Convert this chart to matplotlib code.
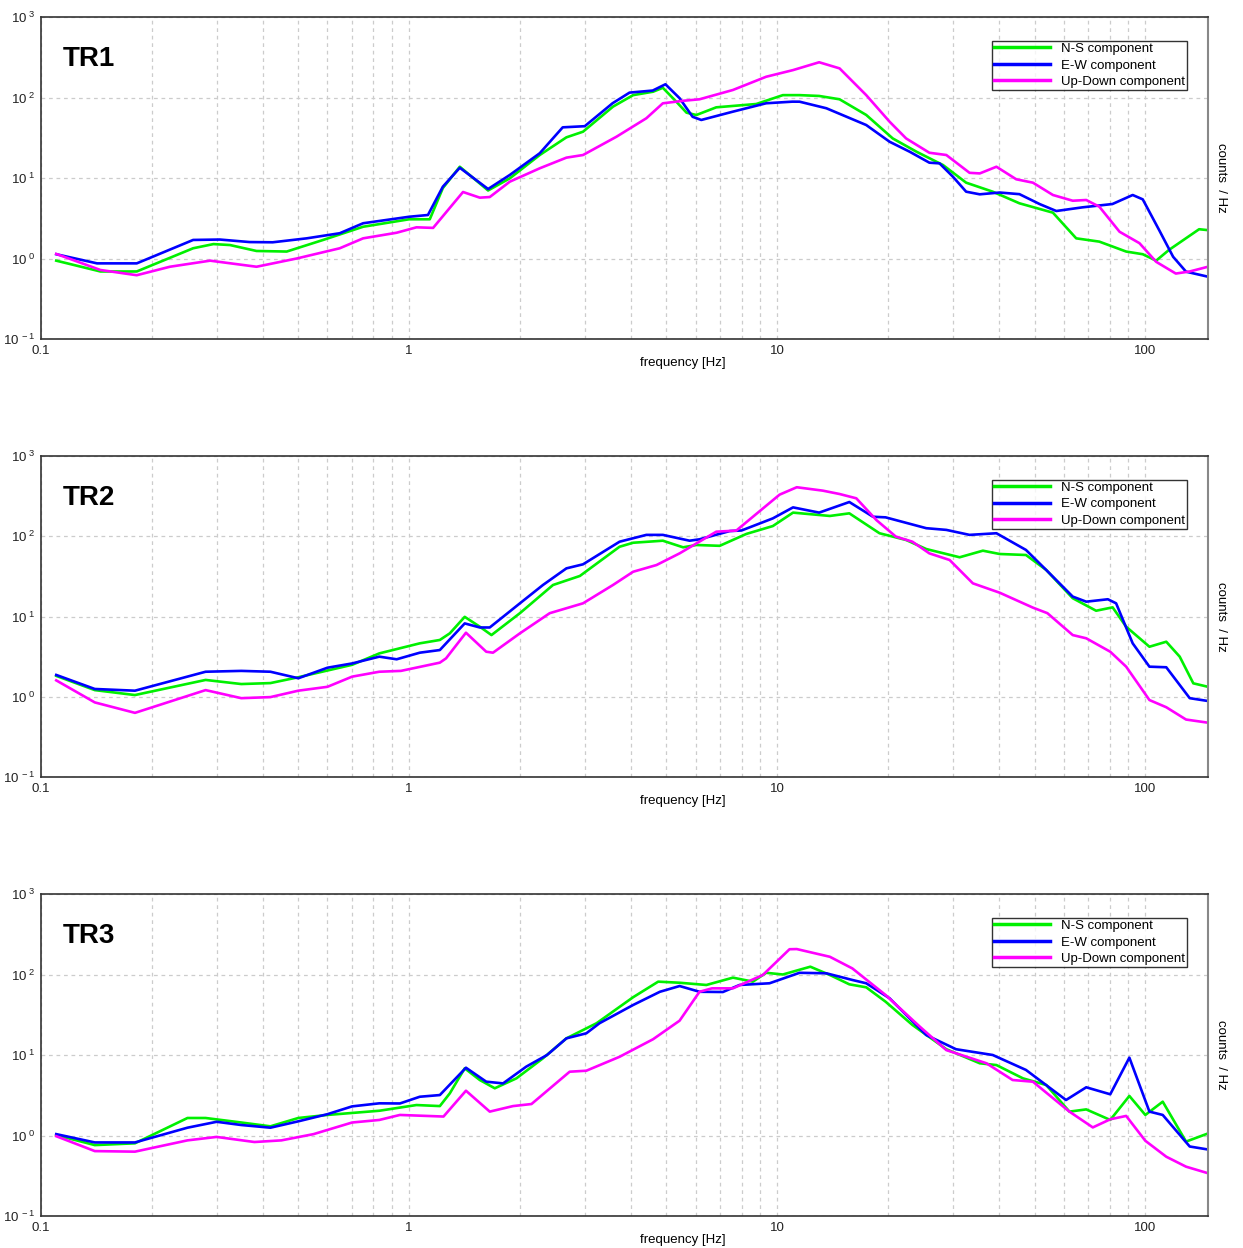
import numpy as np
import matplotlib
matplotlib.use("Agg")
import matplotlib.pyplot as plt
from matplotlib.ticker import FixedLocator, FuncFormatter, NullFormatter

plt.rcParams["font.family"] = ["Liberation Sans", "DejaVu Sans"]
plt.rcParams["mathtext.fontset"] = "custom"
plt.rcParams["mathtext.rm"] = "Liberation Sans"
plt.rcParams["mathtext.it"] = "Liberation Sans:italic"

# ---- TR1 ----
tr1_ns_f = [0.110, 0.145, 0.182, 0.259, 0.294, 0.326, 0.385, 0.465, 0.584, 0.75, 1.0, 1.138, 1.235,
            1.373, 1.639, 1.877, 2.264, 2.675, 2.968, 3.58, 4.06, 4.60, 4.89, 5.32, 5.67, 6.03, 6.83,
            8.77, 10.36, 11.5, 13.0, 14.77, 17.45, 20.6, 23.9, 28.2, 32.6, 38.5, 45.5, 56.1, 64.9,
            75.0, 88.7, 98.4, 107, 116, 140, 148]
tr1_ns_v = [0.94, 0.69, 0.69, 1.34, 1.51, 1.47, 1.24, 1.22, 1.70, 2.48, 3.07, 3.07, 7.5,
            13.8, 7.0, 9.9, 19.3, 32, 37.6, 77, 107, 118, 132, 88.7, 64.8, 60.6, 75.5,
            83, 107, 107, 104.5, 95, 60.7, 31, 21.2, 14.5, 8.75, 6.76, 4.85, 3.71, 1.78,
            1.62, 1.22, 1.13, 0.94, 1.28, 2.31, 2.25]

tr1_ew_f = [0.110, 0.142, 0.182, 0.259, 0.306, 0.369, 0.426, 0.527, 0.648, 0.75, 1.0, 1.125, 1.235,
            1.373, 1.639, 1.877, 2.264, 2.614, 3.0, 3.57, 3.97, 4.59, 4.97, 5.43, 5.89, 6.22, 7.57,
            9.33, 11.0, 11.5, 13.6, 17.45, 20.2, 22.9, 25.9, 27.6, 30.0, 32.6, 35.5, 40.2, 45.5,
            51.6, 57.3, 67.5, 81.4, 92.4, 98.4, 109, 119, 129, 148]
tr1_ew_v = [1.13, 0.87, 0.87, 1.70, 1.72, 1.60, 1.59, 1.78, 2.06, 2.74, 3.3, 3.47, 7.8,
            13.4, 7.3, 10.9, 20.3, 42.6, 44, 84.8, 115, 122, 146, 98, 57.6, 52.6, 66.6,
            84.8, 88.8, 88.7, 73.5, 45.5, 28.2, 21.2, 15.5, 15.2, 10.4, 6.76, 6.27, 6.6, 6.3,
            4.75, 3.89, 4.32, 4.75, 6.15, 5.43, 2.26, 1.05, 0.686, 0.594]

tr1_ud_f = [0.110, 0.145, 0.182, 0.224, 0.288, 0.385, 0.495, 0.648, 0.75, 0.925, 1.047, 1.162,
            1.401, 1.556, 1.656, 1.877, 2.264, 2.675, 2.968, 3.66, 4.41, 4.89, 5.55, 6.15, 7.58,
            9.33, 11.04, 13.0, 14.77, 17.45, 20.2, 22.4, 25.9, 28.8, 33.3, 35.5, 39.4, 44.6, 49.5,
            56.1, 63.5, 69.1, 75.0, 85.1, 96.4, 107, 121, 132, 148]
tr1_ud_v = [1.14, 0.72, 0.62, 0.79, 0.94, 0.79, 1.0, 1.34, 1.78, 2.09, 2.44, 2.40,
            6.7, 5.7, 5.8, 9.0, 13.2, 17.9, 19.3, 32.6, 55.2, 84.7, 91, 95, 124,
            181, 219, 274, 230, 107, 50, 31, 20.6, 19.3, 11.6, 11.4, 13.8, 9.64, 8.75,
            6.15, 5.22, 5.33, 4.4, 2.15, 1.55, 0.91, 0.65, 0.69, 0.79]

# ---- TR2 ----
tr2_ns_f = [0.110, 0.14, 0.18, 0.28, 0.35, 0.42, 0.5, 0.7, 0.83, 1.069, 1.212, 1.29, 1.416, 1.556,
            1.674, 2.0, 2.46, 2.91, 3.73, 4.06, 4.89, 5.55, 6.03, 6.98, 8.25, 9.73, 11.04, 13.9,
            15.7, 18.96, 22.4, 25.4, 31.3, 36.2, 40.2, 47.4, 53.8, 63.5, 73.5, 81.5, 88.7, 102.6,
            114, 124, 135, 148]
tr2_ns_v = [1.82, 1.21, 1.05, 1.62, 1.44, 1.48, 1.75, 2.5, 3.47, 4.63, 5.1, 6.17, 9.9, 7.46,
            5.87, 11.0, 24.7, 32, 74, 83, 88, 72.8, 77.8, 76, 107, 134, 197, 179,
            193, 109, 89.8, 69.3, 54.7, 66.1, 60.1, 58.4, 38, 16.9, 11.8, 13.0, 7.46, 4.2,
            4.85, 3.16, 1.47, 1.33]

tr2_ew_f = [0.110, 0.14, 0.18, 0.28, 0.35, 0.42, 0.5, 0.6, 0.7, 0.83, 0.925, 1.069, 1.212, 1.416,
            1.556, 1.656, 2.0, 2.31, 2.675, 2.968, 3.73, 4.41, 4.89, 5.78, 6.15, 7.43, 8.0, 9.73,
            11.04, 13.0, 15.7, 18.2, 19.7, 25.4, 28.8, 33.3, 39.4, 47.4, 53.8, 63.5, 69.1, 79.1,
            83.3, 92.4, 102.6, 114, 132, 148]
tr2_ew_v = [1.87, 1.25, 1.19, 2.05, 2.1, 2.05, 1.70, 2.3, 2.6, 3.16, 2.93, 3.54, 3.82, 8.2,
            7.3, 7.3, 14.6, 24.7, 39.8, 44.7, 85.5, 104, 104, 88, 91.6, 116, 118, 167,
            229, 197, 267, 175, 172, 126, 120, 104, 109, 67.5, 38, 17.7, 15.3, 16.4,
            14.6, 4.63, 2.37, 2.33, 0.96, 0.885]

tr2_ud_f = [0.110, 0.14, 0.18, 0.28, 0.35, 0.42, 0.5, 0.6, 0.7, 0.83, 0.95, 1.212, 1.26, 1.427,
            1.62, 1.69, 2.0, 2.41, 2.968, 3.58, 4.06, 4.70, 5.43, 6.83, 7.74, 8.59, 10.15, 11.3,
            13.3, 14.77, 16.4, 18.6, 21.0, 23.3, 25.9, 29.4, 34.0, 40.2, 49.5, 54.2, 63.5, 69.1,
            80.3, 88.7, 102.6, 114, 129, 148]
tr2_ud_v = [1.6, 0.85, 0.63, 1.21, 0.96, 0.99, 1.19, 1.33, 1.78, 2.05, 2.1, 2.66, 3.01, 6.28,
            3.64, 3.54, 6.17, 11.0, 14.6, 24.7, 36.1, 43.8, 61.2, 114, 117.6, 175, 330, 408,
            370, 336, 297, 159, 99, 85.5, 61.2, 50.6, 25.9, 19.8, 12.9, 11.0, 5.87, 5.35,
            3.64, 2.37, 0.91, 0.74, 0.52, 0.475]

# ---- TR3 ----
tr3_ns_f = [0.110, 0.14, 0.18, 0.25, 0.28, 0.35, 0.42, 0.5, 0.6, 0.83, 1.047, 1.212, 1.29, 1.416,
            1.556, 1.709, 1.957, 2.31, 2.675, 3.23, 4.06, 4.75, 5.43, 6.42, 7.58, 8.59, 9.33,
            10.36, 12.3, 13.9, 15.7, 17.45, 19.7, 23.3, 28.8, 35.5, 39.4, 46.5, 53.8, 62.2, 69.1,
            80.3, 90.5, 100, 111.5, 129, 148]
tr3_ns_v = [1.01, 0.76, 0.8, 1.65, 1.65, 1.45, 1.3, 1.65, 1.8, 2.03, 2.39, 2.32, 3.34, 6.83,
            4.89, 3.86, 5.13, 9.1, 16.1, 24.8, 52.2, 81.5, 79, 74.1, 91.4, 81.5, 105,
            100, 125, 98.6, 75.5, 69.3, 45.9, 23.6, 11.8, 7.89, 7.5, 5.13, 4.24, 1.98, 2.11,
            1.56, 3.1, 1.8, 2.63, 0.84, 1.06]

tr3_ew_f = [0.110, 0.14, 0.18, 0.25, 0.3, 0.35, 0.42, 0.5, 0.6, 0.7, 0.83, 0.944, 1.069, 1.212,
            1.427, 1.62, 1.80, 2.08, 2.37, 2.675, 3.03, 3.29, 4.06, 4.80, 5.43, 6.15, 7.12, 7.9,
            9.53, 11.5, 13.6, 16.0, 17.45, 20.2, 25.4, 30.6, 38.5, 47.4, 60.9, 69.1, 80.3, 90.5,
            102.6, 111.5, 132, 148]
tr3_ew_v = [1.04, 0.82, 0.82, 1.25, 1.48, 1.35, 1.25, 1.5, 1.84, 2.3, 2.51, 2.5, 3.03, 3.18,
            6.95, 4.66, 4.44, 7.16, 10.0, 16.1, 18.6, 24.8, 41.8, 61, 71.9, 61, 60.6, 74.1,
            77.8, 105, 103.5, 85.5, 77.8, 50.6, 17.7, 11.8, 10.0, 6.52, 2.76, 3.97, 3.25, 9.27,
            1.98, 1.8, 0.73, 0.67]

tr3_ud_f = [0.110, 0.14, 0.18, 0.25, 0.3, 0.38, 0.45, 0.55, 0.7, 0.83, 0.944, 1.24, 1.427, 1.656,
            1.916, 2.15, 2.73, 3.03, 3.73, 4.60, 5.43, 6.15, 6.65, 7.58, 9.14, 10.8, 11.3, 13.9,
            16.0, 19.7, 24.4, 28.8, 37.0, 43.6, 49.5, 62.2, 72.0, 80.3, 88.7, 100, 114, 129, 148]
tr3_ud_v = [0.98, 0.64, 0.63, 0.87, 0.96, 0.83, 0.87, 1.04, 1.45, 1.56, 1.8, 1.72, 3.6, 1.98,
            2.32, 2.46, 6.2, 6.38, 9.5, 15.7, 26.7, 61, 67.3, 67.3, 98.6, 206, 207, 166,
            119, 55.6, 22.5, 11.5, 7.9, 4.89, 4.66, 1.98, 1.26, 1.59, 1.75, 0.86, 0.545, 0.41, 0.34]

panels = [
    ("TR1", (tr1_ns_f, tr1_ns_v), (tr1_ew_f, tr1_ew_v), (tr1_ud_f, tr1_ud_v)),
    ("TR2", (tr2_ns_f, tr2_ns_v), (tr2_ew_f, tr2_ew_v), (tr2_ud_f, tr2_ud_v)),
    ("TR3", (tr3_ns_f, tr3_ns_v), (tr3_ew_f, tr3_ew_v), (tr3_ud_f, tr3_ud_v)),
]
labels = ["N-S component", "E-W component", "Up-Down component"]
colors = ["#00f000", "#0000ff", "#ff00ff"]

fig = plt.figure(figsize=(12.43, 12.48), dpi=100)
W, H = 1243, 1248
left, right = 41, 1208
tops = [17, 456, 894]
bottoms = [339, 777, 1216]

for (name, *series), top, bot in zip(panels, tops, bottoms):
    ax = fig.add_axes([left / W, 1 - bot / H, (right - left) / W, (bot - top) / H])
    for (f, v), lab, c in zip(series, labels, colors):
        ax.plot(f, v, color=c, lw=1.9, label=lab, solid_joinstyle="round")
    ax.set_xscale("log")
    ax.set_yscale("log")
    ax.set_xlim(0.1, 148)
    ax.set_ylim(0.1, 1000)

    ax.xaxis.set_major_locator(FixedLocator([0.1, 1, 10, 100]))
    ax.xaxis.set_major_formatter(FuncFormatter(lambda x, p: "%g" % x))
    minors = [m * 10.0 ** e for e in range(-1, 3) for m in range(2, 10)]
    ax.xaxis.set_minor_locator(FixedLocator(minors))
    ax.xaxis.set_minor_formatter(NullFormatter())
    ax.yaxis.set_major_locator(FixedLocator([0.1, 1, 10, 100, 1000]))
    ax.yaxis.set_major_formatter(FuncFormatter(
        lambda y, p: r"10$^{\ %d}$" % int(round(np.log10(y)))))
    ax.yaxis.set_minor_locator(FixedLocator([]))

    ax.tick_params(which="both", length=0, labelsize=9.5, colors="#222222")
    ax.tick_params(axis="x", pad=4)
    ax.tick_params(axis="y", pad=4)
    ax.grid(True, which="major", color="#cccccc", ls=(0, (3, 3)), lw=0.9)
    ax.grid(True, which="minor", axis="x", color="#cccccc", ls=(0, (3, 3)), lw=0.9)

    for s in ["left", "bottom", "top"]:
        ax.spines[s].set_color("#333333")
        ax.spines[s].set_linewidth(1.2)
    ax.spines["right"].set_color("#888888")
    ax.spines["right"].set_linewidth(1.5)

    ax.set_xlabel("frequency [Hz]", fontsize=9.5, labelpad=2)
    ax.xaxis.set_label_coords(0.55, -0.055)
    ax.yaxis.set_label_position("right")
    ax.set_ylabel("counts  / Hz", rotation=-90, fontsize=9.5, labelpad=14)

    ax.text(0.019, 0.87, name, transform=ax.transAxes, fontsize=20,
            fontweight="bold", va="center", ha="left")

    leg = ax.legend(loc="upper right", bbox_to_anchor=(0.982, 0.926), fontsize=9.5,
                    frameon=True, fancybox=False, handlelength=4.3, handletextpad=0.8,
                    borderpad=0.15, labelspacing=0.32, borderaxespad=0)
    leg.get_frame().set_edgecolor("black")
    leg.get_frame().set_linewidth(1.0)
    for ln in leg.get_lines():
        ln.set_linewidth(2.5)

fig.savefig("out.png", dpi=100, facecolor="white")
